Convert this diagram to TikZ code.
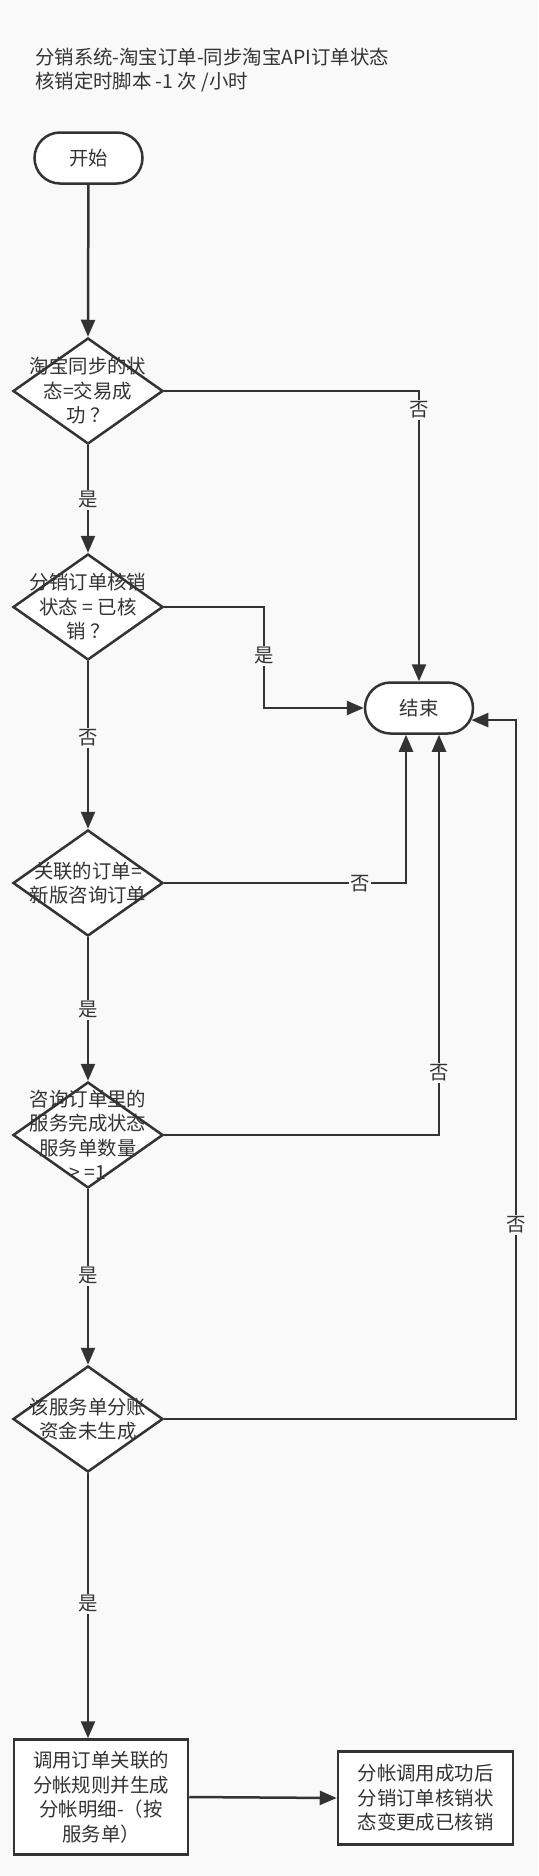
\documentclass[tikz,border=0pt]{standalone}
\usepackage{fontspec}
\newfontfamily\cjk{Noto Sans CJK SC}
\usetikzlibrary{shapes.geometric,shapes.misc,arrows.meta,calc}
\definecolor{ink}{HTML}{333333}
\definecolor{bg}{HTML}{F9F9F9}
\begin{document}
\begin{tikzpicture}[x=1pt,y=-1pt,
  every node/.style={font=\cjk\fontsize{19.4}{24.5}\selectfont, text=ink},
  term/.style={rounded rectangle, draw=ink, line width=2.5pt, fill=white, minimum width=108pt, minimum height=51pt, inner sep=0pt},
  dia/.style={diamond, draw=ink, line width=2.5pt, fill=white, minimum width=150pt, minimum height=106pt, inner sep=0pt},
  box/.style={rectangle, draw=ink, line width=2.5pt, fill=white, inner sep=0pt, align=center},
  txt/.style={align=center, inner sep=0pt},
  arr/.style={draw=ink, line width=2.5pt, -{Triangle[length=17pt,width=14pt]}},
  lbl/.style={fill=bg, inner sep=1.5pt},
]
\fill[bg] (0,0) rectangle (538,1876);
\useasboundingbox (0,0) rectangle (538,1876);

\node[anchor=west, align=left, inner sep=0pt] (title) at (35,70) {分销系统-淘宝订单-同步淘宝API订单状态\\核销定时脚本 -1 次 /小时};

\node[term] (start) at (88.5,158) {开始};
\node[term] (end) at (419,708) {结束};

\node[dia] (d1) at (88,391) {};
\node[dia] (d2) at (88,607) {};
\node[dia] (d3) at (88,883) {};
\node[dia] (d4) at (88,1135) {};
\node[dia] (d5) at (88,1419) {};

\node[box, minimum width=174pt, minimum height=115pt] (b1) at (101,1797) {调用订单关联的\\分帐规则并生成\\分帐明细-（按\\服务单）};
\node[box, minimum width=175pt, minimum height=93pt] (b2) at (425.5,1798) {分帐调用成功后\\分销订单核销状\\态变更成已核销};

\coordinate (k2) at (264,0);
\coordinate (k3) at (406,0);
\coordinate (k4) at (439,0);
\coordinate (k5) at (516,0);

\draw[arr] (start) -- (d1.north);
\draw[arr] (d1.south) -- (d2.north);
\draw[arr] (d2.south) -- (d3.north);
\draw[arr] (d3.south) -- (d4.north);
\draw[arr] (d4.south) -- (d5.north);
\draw[arr] (d5.south) -- (d5.south |- b1.north);
\draw[arr] (b1.east) -- (b2.west);

\draw[arr] (d1.east) -| (end.north);
\draw[arr] (d2.east) -- (d2.east -| k2) -- (k2 |- end.west) -- (end.west);
\draw[arr] (d3.east) -| (k3 |- end.south);
\draw[arr] (d4.east) -| (k4 |- end.south);
\draw[arr] (d5.east) -| (k5 |- end.-13) -- (end.-13);

\node[txt] (t1) at (d1) {淘宝同步的状\\态=交易成\\功 ？};
\node[txt] (t2) at (d2) {分销订单核销\\状态 = 已核\\销 ？};
\node[txt] (t3) at (d3) {关联的订单=\\新版咨询订单};
\node[txt] (t4) at (d4) {咨询订单里的\\服务完成状态\\服务单数量\\> =1};
\node[txt] (t5) at (d5) {该服务单分账\\资金未生成};

\node[lbl] (l1) at (419,410) {否};
\node[lbl] (l2) at (88,500) {是};
\node[lbl] (l3) at (264,656) {是};
\node[lbl] (l4) at (88,738) {否};
\node[lbl] (l5) at (360,884) {否};
\node[lbl] (l6) at (88,1010) {是};
\node[lbl] (l7) at (439,1073) {否};
\node[lbl] (l8) at (88,1276) {是};
\node[lbl] (l9) at (516,1225) {否};
\node[lbl] (l10) at (88,1604) {是};
\end{tikzpicture}
\end{document}
